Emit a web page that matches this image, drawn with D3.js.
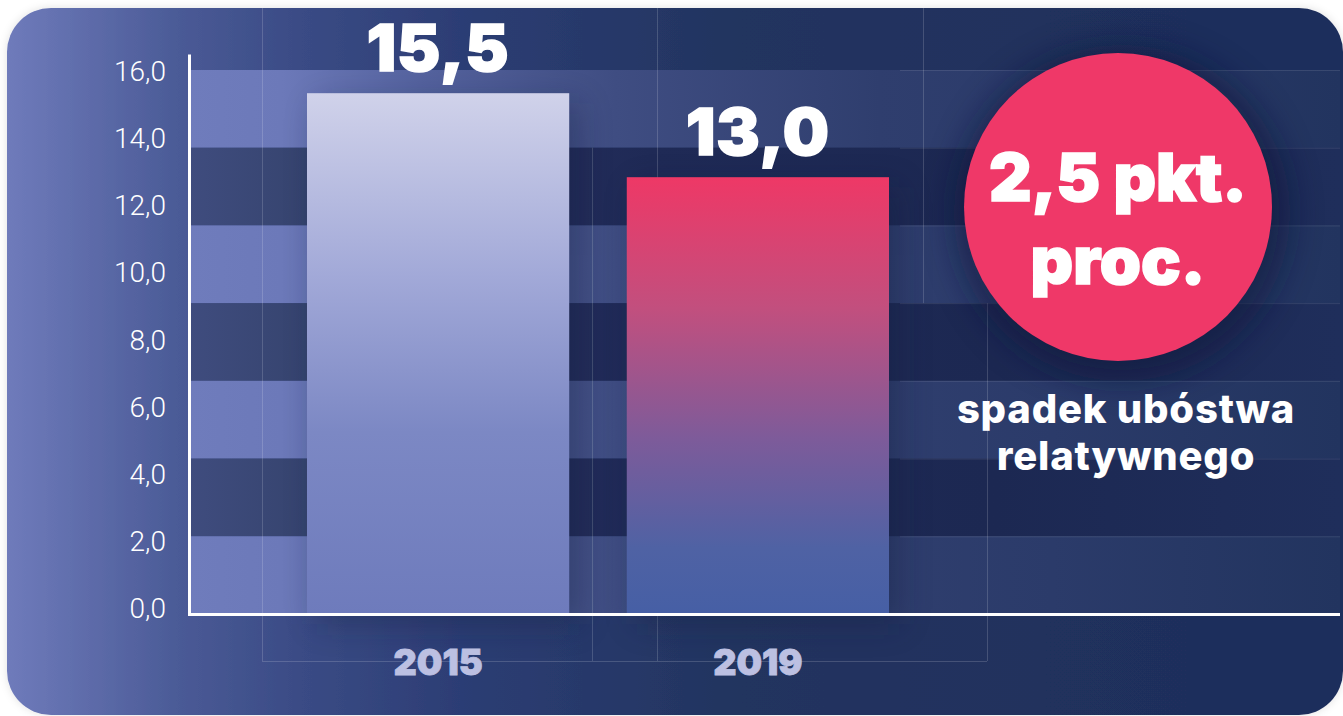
<!DOCTYPE html>
<html>
<head>
<meta charset="utf-8">
<script src="https://cdn.jsdelivr.net/npm/d3@7"></script>
<style>
html, body { margin: 0; padding: 0; background: #fff; }
svg { display: block; }
</style>
</head>
<body>
<div class="canvas"></div>
<script>
// what to show
var years = ['2015', '2019'],
    values = [15.5, 13.0],
    valueLabels = ['15,5', '13,0'],
    yTicks = [0, 2, 4, 6, 8, 10, 12, 14, 16],
    badgeLines = ['2,5 pkt.', 'proc.'],
    captionLines = ['spadek ubóstwa', 'relatywnego'];

// where does it live
var width = 1343,
    height = 716,
    card = {x: 7, y: 8, w: 1336, h: 707, r: 44},
    plot = {left: 190, right: 1340, top: 70, bottom: 614},
    bandCount = 7;

var svg = d3.select('.canvas').append('svg')
    .attr('width', width)
    .attr('height', height);

var defs = svg.append('defs');

function linGrad(id, horizontal, stops) {
    var g = defs.append('linearGradient')
        .attr('id', id)
        .attr('x1', 0).attr('y1', 0)
        .attr('x2', horizontal ? 1 : 0)
        .attr('y2', horizontal ? 0 : 1);
    stops.forEach(function (s) {
        g.append('stop').attr('offset', s[0]).attr('stop-color', s[1]);
    });
}

linGrad('cardBg', true, [[0, '#6f7bbb'], [0.13, '#4a5a96'], [0.22, '#3a4b85'], [0.34, '#2c3d74'], [0.55, '#22345f'], [1, '#1e2d5b']]);
linGrad('bandLight', true, [[0, '#6f7cbc'], [0.08, '#6c79b9'], [0.2, '#55639f'], [0.37, '#3f4d82'], [0.6, '#2f3e6e'], [0.75, '#2b3b6a'], [1, '#22345f']]);
linGrad('bandDark', true, [[0, '#3f4c7e'], [0.1, '#36446f'], [0.25, '#262f5e'], [0.4, '#1f2a56'], [0.7, '#1c2852'], [1, '#1f2e5b']]);
linGrad('bar2015', false, [[0, '#d0d2ea'], [0.35, '#a2a9d8'], [0.65, '#7c88c4'], [1, '#6e7bbc']]);
linGrad('bar2019', false, [[0, '#ee3866'], [0.3, '#c24f7e'], [0.6, '#7d5b9a'], [0.85, '#4f62a4'], [1, '#465fa5']]);

defs.append('clipPath').attr('id', 'cardClip')
    .append('rect')
    .attr('x', card.x).attr('y', card.y)
    .attr('width', card.w).attr('height', card.h)
    .attr('rx', card.r);

var soft = defs.append('filter').attr('id', 'soft')
    .attr('x', '-30%').attr('y', '-30%').attr('width', '160%').attr('height', '160%');
soft.append('feGaussianBlur').attr('stdDeviation', 16);

var cardShadow = defs.append('filter').attr('id', 'cardShadow')
    .attr('x', '-5%').attr('y', '-5%').attr('width', '110%').attr('height', '110%');
cardShadow.append('feDropShadow')
    .attr('dx', 0).attr('dy', 0).attr('stdDeviation', 4)
    .attr('flood-color', '#000').attr('flood-opacity', 0.12);

// card
svg.append('rect')
    .attr('x', card.x).attr('y', card.y)
    .attr('width', card.w).attr('height', card.h)
    .attr('rx', card.r)
    .attr('fill', 'url(#cardBg)')
    .attr('filter', 'url(#cardShadow)');

var g = svg.append('g').attr('clip-path', 'url(#cardClip)');

// scales
var x = d3.scaleBand()
    .domain(years)
    .range([307, 889])
    .paddingInner(0.18)
    .paddingOuter(0);

var y = d3.scaleLinear()
    .domain([0, 16])
    .range([plot.bottom, plot.bottom - 16 * 33.6]);

// background bands
var band = d3.scaleLinear().domain([0, bandCount]).range([plot.top, plot.bottom]);

g.selectAll('rect.band')
    .data(d3.range(bandCount))
    .enter()
    .append('rect')
    .attr('class', 'band')
    .attr('x', plot.left)
    .attr('y', function (i) { return band(i); })
    .attr('width', plot.right - plot.left)
    .attr('height', band(1) - band(0))
    .attr('fill', function (i) { return i % 2 === 0 ? 'url(#bandLight)' : 'url(#bandDark)'; });

// faint band edges on the right side
g.selectAll('line.edge')
    .data(d3.range(bandCount))
    .enter()
    .append('line')
    .attr('class', 'edge')
    .attr('x1', 900).attr('x2', plot.right)
    .attr('y1', function (i) { return band(i) + 0.5; })
    .attr('y2', function (i) { return band(i) + 0.5; })
    .attr('stroke', 'rgba(255,255,255,0.1)');

// decorative frame lines
var decor = [
    [262, card.y, 661],
    [592, band(1), 661],
    [657, card.y, 661],
    [923, card.y, band(3)],
    [987, band(3), 661]
];
decor.forEach(function (d) {
    g.append('line')
        .attr('x1', d[0] + 0.5).attr('x2', d[0] + 0.5)
        .attr('y1', d[1]).attr('y2', d[2])
        .attr('stroke', 'rgba(255,255,255,0.16)');
});
g.append('line')
    .attr('x1', 262).attr('x2', 987)
    .attr('y1', 661.5).attr('y2', 661.5)
    .attr('stroke', 'rgba(255,255,255,0.16)');

// dark halo behind the bars
g.selectAll('rect.halo')
    .data(values)
    .enter()
    .append('rect')
    .attr('class', 'halo')
    .attr('x', function (d, i) { return x(years[i]) + 10; })
    .attr('y', function (d) { return y(d) + 10; })
    .attr('width', x.bandwidth())
    .attr('height', function (d) { return y(0) - y(d); })
    .attr('fill', '#141a3c')
    .attr('opacity', 0.35)
    .attr('filter', 'url(#soft)');

// bars
g.selectAll('rect.bar')
    .data(values)
    .enter()
    .append('rect')
    .attr('class', 'bar')
    .attr('x', function (d, i) { return x(years[i]); })
    .attr('y', function (d) { return y(d); })
    .attr('width', x.bandwidth())
    .attr('height', function (d) { return y(0) - y(d); })
    .attr('fill', function (d, i) { return 'url(#bar' + years[i] + ')'; });

// value labels
g.selectAll('text.value')
    .data(values)
    .enter()
    .append('text')
    .attr('class', 'value')
    .attr('x', function (d, i) { return x(years[i]) + x.bandwidth() / 2; })
    .attr('y', function (d) { return y(d) - 22; })
    .attr('text-anchor', 'middle')
    .attr('fill', '#fff')
    .attr('stroke', '#fff')
    .attr('stroke-width', 1.6)
    .style('font-family', 'Inter, sans-serif')
    .style('font-weight', 900)
    .style('font-size', '65px')
    .style('letter-spacing', '1px')
    .text(function (d, i) { return valueLabels[i]; });

// year labels
g.selectAll('text.year')
    .data(years)
    .enter()
    .append('text')
    .attr('class', 'year')
    .attr('x', function (d) { return x(d) + x.bandwidth() / 2; })
    .attr('y', 675)
    .attr('text-anchor', 'middle')
    .attr('fill', '#bcc0e2')
    .attr('stroke', '#bcc0e2')
    .attr('stroke-width', 0.8)
    .style('font-family', 'Inter, sans-serif')
    .style('font-weight', 900)
    .style('font-size', '36px')
    .text(function (d) { return d; });

// axes
var yAxis = d3.axisLeft(y)
    .tickValues(yTicks)
    .tickSize(0)
    .tickPadding(24)
    .tickFormat(function (d) { return d.toFixed(1).replace('.', ','); });

var yg = g.append('g')
    .attr('transform', 'translate(' + plot.left + ',0)')
    .call(yAxis);
yg.select('.domain').remove();
yg.selectAll('text')
    .attr('dy', '0.14em')
    .attr('fill', '#fff')
    .style('font-family', 'Roboto, sans-serif')
    .style('font-weight', 300)
    .style('font-size', '28px');

g.append('line')
    .attr('x1', plot.left - 0.5).attr('x2', plot.left - 0.5)
    .attr('y1', y(16) - 22).attr('y2', plot.bottom + 1.5)
    .attr('stroke', '#fff').attr('stroke-width', 3);
g.append('line')
    .attr('x1', plot.left - 2).attr('x2', plot.right)
    .attr('y1', plot.bottom + 0.5).attr('y2', plot.bottom + 0.5)
    .attr('stroke', '#fff').attr('stroke-width', 3);

// badge
var badge = {cx: 1118, cy: 207, r: 154};
g.append('circle')
    .attr('cx', badge.cx + 4).attr('cy', badge.cy + 6)
    .attr('r', badge.r + 14)
    .attr('fill', '#11173a')
    .attr('opacity', 0.55)
    .attr('filter', 'url(#soft)');
g.append('circle')
    .attr('cx', badge.cx).attr('cy', badge.cy)
    .attr('r', badge.r)
    .attr('fill', '#ef3868');

g.selectAll('text.badge')
    .data(badgeLines)
    .enter()
    .append('text')
    .attr('class', 'badge')
    .attr('x', badge.cx)
    .attr('y', function (d, i) { return 201 + i * 83; })
    .attr('text-anchor', 'middle')
    .attr('fill', '#fff')
    .attr('stroke', '#fff')
    .attr('stroke-width', 1.6)
    .style('font-family', 'Inter, sans-serif')
    .style('font-weight', 900)
    .style('font-size', '66px')
    .text(function (d) { return d; });

g.selectAll('text.caption')
    .data(captionLines)
    .enter()
    .append('text')
    .attr('class', 'caption')
    .attr('x', 1126)
    .attr('y', function (d, i) { return 423 + i * 47; })
    .attr('text-anchor', 'middle')
    .attr('fill', '#fff')
    .style('font-family', 'Inter, sans-serif')
    .style('font-weight', 800)
    .style('font-size', '40px')
    .style('letter-spacing', '0.8px')
    .text(function (d) { return d; });
</script>
</body>
</html>
